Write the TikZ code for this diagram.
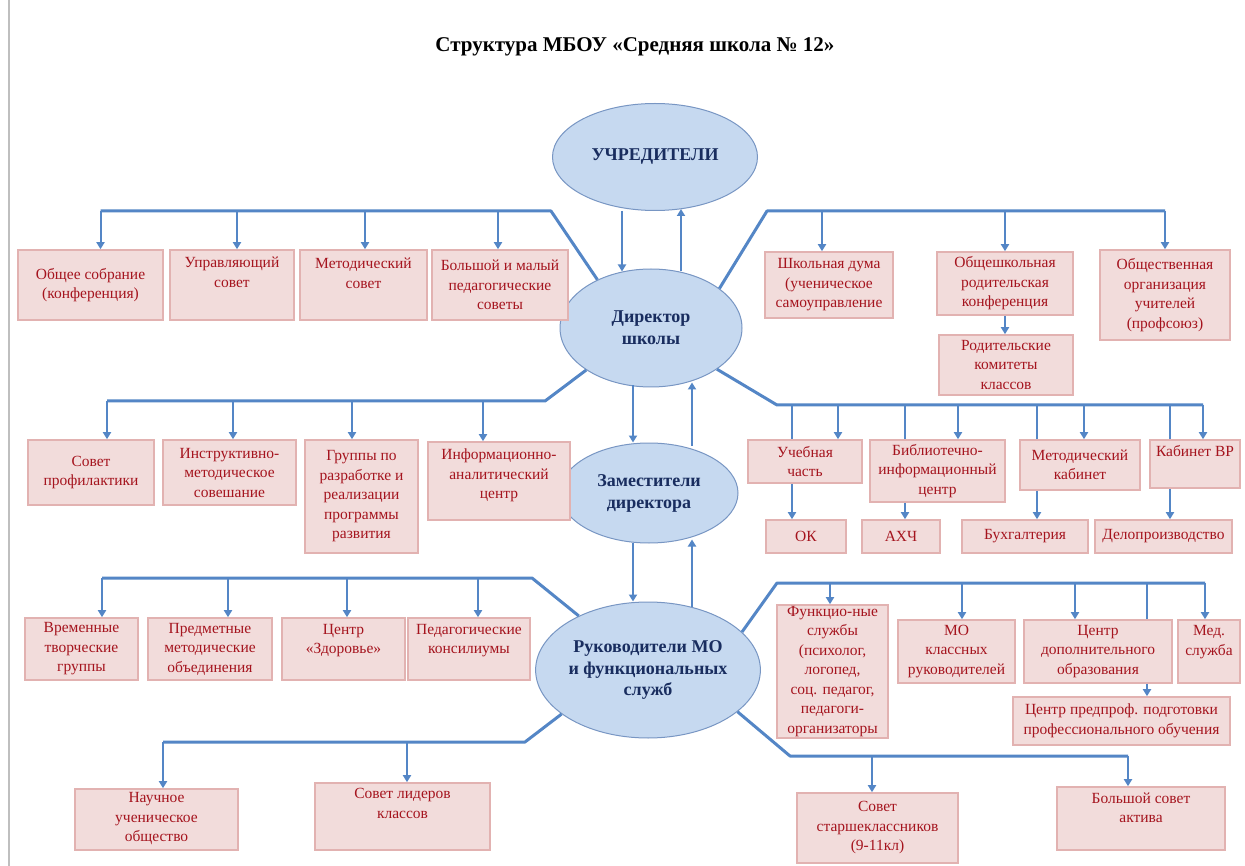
\documentclass[tikz,border=0pt]{standalone}
\usepackage{fontspec}
\setmainfont{Liberation Serif}
\usetikzlibrary{arrows.meta,shapes.geometric,calc,backgrounds}
\definecolor{boxfill}{RGB}{242,220,219}
\definecolor{boxline}{RGB}{226,178,177}
\definecolor{boxtext}{RGB}{165,20,30}
\definecolor{ellfill}{RGB}{198,217,240}
\definecolor{ellline}{RGB}{120,150,195}
\definecolor{elltext}{RGB}{25,45,95}
\definecolor{linec}{RGB}{84,134,198}
\newcommand{\tp}[3]{\parbox[c][#1][t]{#2}{\centering #3}}
\begin{document}
\begin{tikzpicture}[x=1pt,y=-1pt,
  box/.style={draw=boxline, line width=1.6pt, fill=boxfill, text=boxtext, align=center, inner sep=2pt, font=\fontsize{15.5}{19.5}\selectfont},
  ell/.style={ellipse, draw=ellline, line width=1pt, fill=ellfill, text=elltext, align=center, font=\bfseries\fontsize{18}{22}\selectfont, inner sep=0pt},
  bus/.style={draw=linec, line width=3pt, line join=round},
  arr/.style={draw=linec, line width=2pt, -{Triangle[width=8pt,length=7pt]}},
  ln/.style={draw=linec, line width=2pt}]
\useasboundingbox (0,0) rectangle (1245,866);
\fill[white] (0,0) rectangle (1245,866);
\coordinate (edgeT) at (9,0);
\coordinate (edgeB) at (9,866);
\draw[black!25, line width=1.2pt] (edgeT) -- (edgeB);

\node[font=\bfseries\fontsize{21}{24}\selectfont] (title) at (635,47) {Структура МБОУ «Средняя школа № 12»};

% ellipses
\node[ell, minimum width=205, minimum height=107] (uch) at (655,157) {УЧРЕДИТЕЛИ};
\node[ell, minimum width=182, minimum height=118] (dir) at (651,328) {Директор\\школы};
\node[ell, minimum width=178, minimum height=100] (zam) at (649,493) {Заместители\\директора};
\node[ell, minimum width=224, minimum height=136, font=\bfseries\fontsize{18}{21.5}\selectfont] (ruk) at (648,670) {Руководители МО\\и функциональных\\служб};

% top-left boxes
\node[box, minimum width=145, minimum height=70] (b1) at (90.5,285) {Общее собрание\\(конференция)};
\node[box, minimum width=124, minimum height=70] (b2) at (232,285) {\tp{56pt}{118pt}{Управляющий\\совет}};
\node[box, minimum width=127, minimum height=70] (b3) at (363.5,285) {\tp{54pt}{120pt}{Методический\\совет}};
\node[box, minimum width=136, minimum height=70] (b4) at (500,285) {Большой и малый\\педагогические\\советы};
% top-right boxes
\node[box, minimum width=128, minimum height=66, inner ysep=0pt] (b5) at (829,285) {Школьная дума\\(ученическое\\самоуправление};
\node[box, minimum width=136, minimum height=63, inner ysep=0pt] (b6) at (1005,283.5) {Общешкольная\\родительская\\конференция};
\node[box, minimum width=134, minimum height=60, inner ysep=0pt] (b7) at (1006,365) {Родительские\\комитеты\\классов};
\node[box, minimum width=130, minimum height=90] (b8) at (1165,295) {Общественная\\организация\\учителей\\(профсоюз)};

% middle-left boxes
\node[box, minimum width=126, minimum height=65] (c1) at (91,472.5) {Совет\\профилактики};
\node[box, minimum width=133, minimum height=65, inner ysep=0pt] (c2) at (229.5,472.5) {Инструктивно-\\методическое\\совешание};
\node[box, minimum width=113, minimum height=113, inner ysep=0pt] (c3) at (361.5,496.5) {Группы по\\разработке и\\реализации\\программы\\развития};
\node[box, minimum width=142, minimum height=78] (c4) at (499,481) {\tp{64pt}{138pt}{Информационно-\\аналитический\\центр}};
% middle-right boxes
\node[box, minimum width=114, minimum height=43, inner ysep=0pt] (d1) at (805,461.5) {Учебная\\часть};
\node[box, minimum width=135, minimum height=62, inner ysep=0pt] (d2) at (937.5,471) {Библиотечно-\\информационный\\центр};
\node[box, minimum width=120, minimum height=50] (d3) at (1080,465) {Методический\\кабинет};
\node[box, minimum width=90, minimum height=48] (d4) at (1195,464) {\tp{38pt}{86pt}{Кабинет ВР}};
\node[box, minimum width=80, minimum height=33] (e1) at (806,536.5) {ОК};
\node[box, minimum width=78, minimum height=33] (e2) at (901,536.5) {АХЧ};
\node[box, minimum width=126, minimum height=33] (e3) at (1025,536.5) {Бухгалтерия};
\node[box, minimum width=137, minimum height=33] (e4) at (1163.5,536.5) {Делопроизводство};

% lower-left boxes
\node[box, minimum width=113, minimum height=62, inner ysep=0pt] (f1) at (81.5,649) {Временные\\творческие\\группы};
\node[box, minimum width=124, minimum height=62, inner ysep=0pt] (f2) at (210,649) {Предметные\\методические\\объединения};
\node[box, minimum width=123, minimum height=62] (f3) at (343.5,649) {\tp{50pt}{118pt}{Центр\\«Здоровье»}};
\node[box, minimum width=122, minimum height=62] (f4) at (469,649) {\tp{50pt}{118pt}{Педагогические\\консилиумы}};
% lower-right boxes
\node[box, minimum width=111, minimum height=133, inner ysep=0pt] (g1) at (832.5,671.5) {Функцио-ные\\службы\\(психолог,\\логопед,\\соц. педагог,\\педагоги-\\организаторы};
\node[box, minimum width=117, minimum height=63, inner ysep=0pt] (g2) at (956.5,651.5) {МО\\классных\\руководителей};
\node[box, minimum width=148, minimum height=63, inner ysep=0pt] (g3) at (1098,651.5) {Центр\\дополнительного\\образования};
\node[box, minimum width=62, minimum height=63] (g4) at (1209,651.5) {\tp{52pt}{58pt}{Мед.\\служба}};
\node[box, minimum width=217, minimum height=48] (g5) at (1121.5,721) {Центр предпроф. подготовки\\профессионального обучения};

% bottom boxes
\node[box, minimum width=163, minimum height=61] (h1) at (156.5,819.5) {\tp{54pt}{150pt}{Научное\\ученическое\\общество}};
\node[box, minimum width=175, minimum height=67] (h2) at (402.5,816.5) {\tp{56pt}{160pt}{Совет лидеров\\классов}};
\node[box, minimum width=161, minimum height=70, inner ysep=0pt] (h3) at (877.5,828) {Совет\\старшеклассников\\(9-11кл)};
\node[box, minimum width=168, minimum height=63] (h4) at (1141,818.5) {\tp{52pt}{160pt}{Большой совет\\актива}};

% vertical links between ellipses
\draw[arr] ([xshift=-33pt]uch.south) -- ([xshift=-33pt,yshift=-3pt]uch.south |- dir.north);
\draw[arr] ([xshift=30pt,yshift=-3pt]dir.north) -- ([xshift=30pt,yshift=2pt]dir.north |- uch.south);
\draw[arr] ([xshift=-18pt,yshift=2pt]dir.south) -- ([xshift=-18pt]dir.south |- zam.north);
\draw[arr] ([xshift=43pt,yshift=-3pt]zam.north) -- ([xshift=43pt,yshift=5pt]zam.north |- dir.south);
\draw[arr] ([xshift=-16pt,yshift=1pt]zam.south) -- ([xshift=-16pt]zam.south |- ruk.north);
\draw[arr] ([xshift=44pt,yshift=-5pt]ruk.north) -- ([xshift=44pt,yshift=4pt]ruk.north |- zam.south);

% top-left bus
\coordinate (tlc) at (551,211);
\coordinate (tle) at ([xshift=10pt]b1.north |- tlc);
\draw[bus] (dir.138) -- (tlc) -- (tle);
\draw[arr] (tle) -- ([xshift=10pt]b1.north);
\draw[arr] ([xshift=5pt]b2.north |- tlc) -- ([xshift=5pt]b2.north);
\draw[arr] ([xshift=1.5pt]b3.north |- tlc) -- ([xshift=1.5pt]b3.north);
\draw[arr] ([xshift=-2pt]b4.north |- tlc) -- ([xshift=-2pt]b4.north);

% top-right bus
\coordinate (trc) at (767,211);
\coordinate (tre) at (b8.north |- trc);
\draw[bus] (dir.30) -- (trc) -- (tre);
\draw[arr] ([xshift=-7pt]b5.north |- trc) -- ([xshift=-7pt]b5.north);
\draw[arr] (b6.north |- trc) -- (b6.north);
\draw[arr] (tre) -- (b8.north);
\draw[arr] (b6.south) -- (b6.south |- b7.north);

% middle-left bus
\coordinate (mlc) at (545,401);
\coordinate (mle) at ([xshift=16pt]c1.north |- mlc);
\draw[bus] (dir.213) -- (mlc) -- (mle);
\draw[arr] (mle) -- ([xshift=16pt]c1.north);
\draw[arr] ([xshift=3.5pt]c2.north |- mlc) -- ([xshift=3.5pt]c2.north);
\draw[arr] ([xshift=-9.5pt]c3.north |- mlc) -- ([xshift=-9.5pt]c3.north);
\draw[arr] ([xshift=-16pt]c4.north |- mlc) -- ([xshift=-16pt]c4.north);

% middle-right bus
\coordinate (mrc) at (777,405);
\coordinate (mre) at ([xshift=8pt]d4.north |- mrc);
\draw[bus] (dir.-32) -- (mrc) -- (mre);
\draw[ln] ([xshift=-13pt]d1.north |- mrc) -- ([xshift=-13pt]d1.north);
\draw[arr] ([xshift=33pt]d1.north |- mrc) -- ([xshift=33pt]d1.north);
\draw[ln] ([xshift=-32.5pt]d2.north |- mrc) -- ([xshift=-32.5pt]d2.north);
\draw[arr] ([xshift=20.5pt]d2.north |- mrc) -- ([xshift=20.5pt]d2.north);
\draw[ln] ([xshift=-43pt]d3.north |- mrc) -- ([xshift=-43pt]d3.north);
\draw[arr] ([xshift=4pt]d3.north |- mrc) -- ([xshift=4pt]d3.north);
\draw[ln] ([xshift=-25pt]d4.north |- mrc) -- ([xshift=-25pt]d4.north);
\draw[arr] (mre) -- ([xshift=8pt]d4.north);
\draw[arr] ([xshift=-13pt]d1.south) -- ([xshift=-13pt]d1.south |- e1.north);
\draw[arr] ([xshift=-32.5pt]d2.south) -- ([xshift=-32.5pt]d2.south |- e2.north);
\draw[arr] ([xshift=-43pt]d3.south) -- ([xshift=-43pt]d3.south |- e3.north);
\draw[arr] ([xshift=-25pt]d4.south) -- ([xshift=-25pt]d4.south |- e4.north);

% lower-left bus
\coordinate (llc) at (532,578);
\coordinate (lle) at ([xshift=20.5pt]f1.north |- llc);
\draw[bus] (ruk.142) -- (llc) -- (lle);
\draw[arr] (lle) -- ([xshift=20.5pt]f1.north);
\draw[arr] ([xshift=18pt]f2.north |- llc) -- ([xshift=18pt]f2.north);
\draw[arr] ([xshift=3.5pt]f3.north |- llc) -- ([xshift=3.5pt]f3.north);
\draw[arr] ([xshift=9pt]f4.north |- llc) -- ([xshift=9pt]f4.north);

% lower-right bus
\coordinate (lrc) at (777,583);
\coordinate (lre) at ([xshift=-4pt]g4.north |- lrc);
\draw[bus] (ruk.22) -- (lrc) -- (lre);
\draw[arr] ([xshift=-2.5pt]g1.north |- lrc) -- ([xshift=-2.5pt]g1.north);
\draw[arr] ([xshift=5.5pt]g2.north |- lrc) -- ([xshift=5.5pt]g2.north);
\draw[arr] ([xshift=-23pt]g3.north |- lrc) -- ([xshift=-23pt]g3.north);
\draw[ln] ([xshift=49pt]g3.north |- lrc) -- ([xshift=49pt]g3.north);
\draw[arr] (lre) -- ([xshift=-4pt]g4.north);
\draw[arr] ([xshift=49pt]g3.south) -- ([xshift=49pt]g3.south |- g5.north);

% bottom-left bus
\coordinate (blc) at (525,742);
\coordinate (ble) at ([xshift=6.5pt]h1.north |- blc);
\draw[bus] (ruk.207) -- (blc) -- (ble);
\draw[arr] (ble) -- ([xshift=6.5pt]h1.north);
\draw[arr] ([xshift=4.5pt]h2.north |- blc) -- ([xshift=4.5pt]h2.north);

% bottom-right bus
\coordinate (brc) at (790,756);
\coordinate (bre) at ([xshift=-13pt]h4.north |- brc);
\draw[bus] (ruk.-25) -- (brc) -- (bre);
\draw[arr] ([xshift=-5.5pt]h3.north |- brc) -- ([xshift=-5.5pt]h3.north);
\draw[arr] (bre) -- ([xshift=-13pt]h4.north);
\end{tikzpicture}
\end{document}
